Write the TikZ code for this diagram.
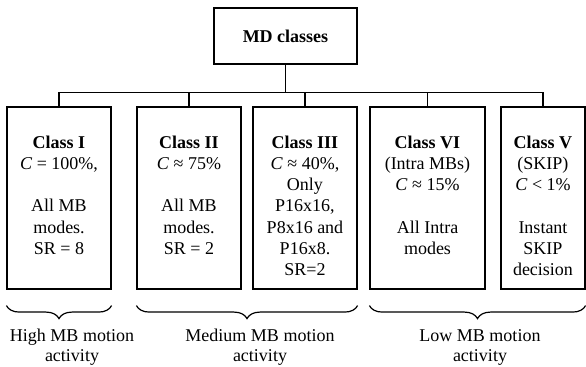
\documentclass[tikz,border=0pt]{standalone}
\usepackage{fontspec}
\setmainfont{Liberation Serif}
\usetikzlibrary{calc,positioning,decorations.pathreplacing}

\newcommand{\classhead}[1]{\rule{0pt}{14pt}\textbf{#1}}

\begin{document}
\begin{tikzpicture}[x=0.5pt,y=-0.5pt,line width=0.6pt,
  every node/.style={draw,align=center,inner sep=0pt,font=\fontsize{9}{10.6}\selectfont},
  classbox/.style={minimum height=91pt},
  grouplabel/.style={draw=none,font=\fontsize{9}{10}\selectfont},
  groupbrace/.style={decorate,decoration={brace,mirror,amplitude=6.5pt}}]
\useasboundingbox (0,0) rectangle (586,367);
\node [minimum width=71.5pt,minimum height=28pt] (md) at (285.5,36) {\textbf{MD classes}};
\node [classbox,minimum width=52pt] (classI) at (59,198) {\classhead{Class I}\\\textit{C} = 100\%,\\\mbox{}\\All MB\\modes.\\SR = 8\\\mbox{}};
\node [classbox,minimum width=52pt] (classII) at (189,198) {\classhead{Class II}\\\textit{C} ≈ 75\%\\\mbox{}\\All MB\\modes.\\SR = 2\\\mbox{}};
\node [classbox,minimum width=52pt] (classIII) at (305,198) {\classhead{Class III}\\\textit{C} ≈ 40\%,\\Only\\P16x16,\\P8x16 and\\P16x8.\\SR=2};
\node [classbox,minimum width=57.5pt] (classVI) at (427.5,198) {\classhead{Class VI}\\(Intra MBs)\\\textit{C} ≈ 15\%\\\mbox{}\\All Intra\\modes\\\mbox{}};
\node [classbox,minimum width=42pt] (classV) at (543,198) {\classhead{Class V}\\(SKIP)\\\textit{C} < 1\%\\\mbox{}\\Instant\\SKIP\\decision};
% tree connectors
\coordinate (bus) at ($(classI.north)+(0,-14)$);
\draw (md.south) -- (md.south |- bus);
\draw (classI.north) -- (bus) -| (classV.north);
\foreach \c in {classII,classIII,classVI}
  \draw (\c.north) -- (\c.north |- bus);
% motion activity groups
\draw [groupbrace] ($(classI.south west)+(0,16)$) -- ($(classI.south east)+(0,16)$);
\draw [groupbrace] ($(classII.south west)+(0,16)$) -- ($(classIII.south east)+(0,16)$);
\draw [groupbrace] ($(classVI.south west)+(0,16)$) -- ($(classV.south east)+(0,16)$);
\node [grouplabel] (high) at (72,347) {High MB motion\\activity};
\node [grouplabel] (medium) at (260,347) {Medium MB motion\\activity};
\node [grouplabel] (low) at (480,347) {Low MB motion\\activity};
\end{tikzpicture}
\end{document}
